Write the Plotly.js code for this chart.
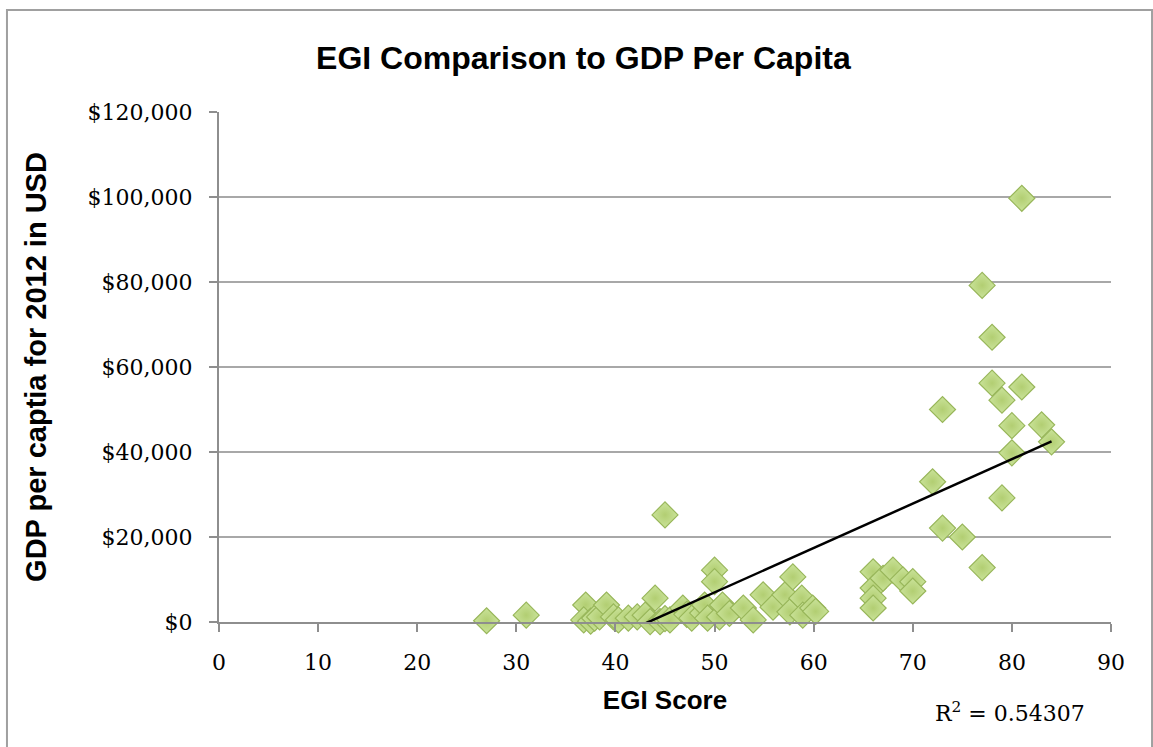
<!DOCTYPE html>
<html>
<head>
<meta charset="utf-8">
<script src="https://cdn.plot.ly/plotly-3.0.1.min.js"></script>
<style>html,body{margin:0;padding:0;background:#fff;}#chart{width:1153px;height:747px;}</style>
</head>
<body>
<div id="chart"></div>
<script>
// EGI score per country
var egiScore = [27, 31, 37, 36.8, 37.5, 37.9, 38.4, 39.1, 39.8, 40.3, 41.3, 42.2, 43, 43.5, 44, 44.5, 45, 45, 45.5,
  46.8, 47.2, 47.7, 48.8, 49, 49.3, 50, 50, 50.5, 50.8, 51.5, 52.9, 53.9, 54.9, 55.9, 57.1, 57.6, 57.9, 58.8, 58.9,
  59.9, 60.2, 66, 66, 66, 66, 67, 68, 69, 70, 70, 72, 73, 73, 75, 77, 77, 78, 78, 79, 79, 80, 80, 81, 81, 83, 84];
// GDP per capita 2012 (USD)
var gdpPerCapita = [300, 1600, 4000, 500, 200, 900, 1200, 4000, 1200, 500, 900, 1200, 1600, 100, 5600, 100, 25200, 800, 500,
  3300, 1800, 900, 2100, 4000, 900, 12200, 9500, 1200, 4000, 2000, 3300, 500, 6400, 3500, 6400, 2400, 10600, 5600, 1600,
  3300, 2500, 11800, 8000, 5600, 3300, 10300, 12200, 9900, 9500, 7300, 33000, 50000, 22100, 20000, 12800, 79200, 67000, 56200, 52200, 29200,
  46200, 39800, 55300, 99700, 46400, 42400];
var xTickVals = [0, 10, 20, 30, 40, 50, 60, 70, 80, 90];
var yTickVals = [0, 20000, 40000, 60000, 80000, 100000, 120000];
var rSquaredLabel = 'R<sup>2</sup> = 0.54307';

// linear least-squares trend line computed from the data
var n = egiScore.length, sx = 0, sy = 0, sxx = 0, sxy = 0;
for (var i = 0; i < n; i++) { sx += egiScore[i]; sy += gdpPerCapita[i]; sxx += egiScore[i]*egiScore[i]; sxy += egiScore[i]*gdpPerCapita[i]; }
var slope = (n*sxy - sx*sy) / (n*sxx - sx*sx);
var intercept = (sy - slope*sx) / n;
var xMin = Math.min.apply(null, egiScore), xMax = Math.max.apply(null, egiScore);
var trendX = [xMin, xMax];
var trendY = trendX.map(function(v){ return intercept + slope*v; });

var serif = 'DejaVu Serif, Liberation Serif, serif';
var sans = 'Liberation Sans, Arial, sans-serif';

var traces = [
  {
    x: egiScore, y: gdpPerCapita, type: 'scatter', mode: 'markers', cliponaxis: false,
    marker: { symbol: 'diamond', size: 20, color: '#cae39a',
      gradient: { type: 'radial', color: '#b2ce72' },
      line: { color: '#98b65a', width: 1.2 } },
    hoverinfo: 'x+y'
  },
  {
    x: trendX, y: trendY, type: 'scatter', mode: 'lines',
    line: { color: '#000', width: 2.5 }, hoverinfo: 'skip'
  }
];

var layout = {
  width: 1153, height: 747,
  margin: { l: 219, r: 42, t: 112, b: 125 },
  paper_bgcolor: '#fff', plot_bgcolor: '#fff',
  showlegend: false,
  title: { text: 'EGI Comparison to GDP Per Capita', font: { family: sans, size: 32, color: '#000', weight: 'bold' },
    xref: 'container', x: 0.506, yref: 'container', y: 0.923, xanchor: 'center', yanchor: 'middle' },
  xaxis: {
    range: [0, 90], tickvals: xTickVals, ticktext: xTickVals.map(String),
    showline: true, linecolor: '#8e8e8e', linewidth: 2,
    ticks: 'outside', ticklen: 8, tickwidth: 2, tickcolor: '#8e8e8e',
    showgrid: false, zeroline: false, ticklabelstandoff: 12,
    tickfont: { family: serif, size: 22, color: '#000' },
    title: { text: 'EGI Score', font: { family: sans, size: 26, color: '#000', weight: 'bold' }, standoff: 16 }
  },
  yaxis: {
    range: [0, 120000], tickvals: yTickVals,
    ticktext: yTickVals.map(function(v){ return '$' + v.toLocaleString('en-US'); }),
    showline: true, linecolor: '#8e8e8e', linewidth: 2,
    ticks: 'outside', ticklen: 8, tickwidth: 2, tickcolor: '#8e8e8e',
    showgrid: true, gridcolor: '#a8a8a8', gridwidth: 1.5, zeroline: false, ticklabelstandoff: 12,
    tickfont: { family: serif, size: 22, color: '#000' },
    title: { text: 'GDP per captia for 2012 in USD', font: { family: sans, size: 29, color: '#000', weight: 'bold' }, standoff: 32 }
  },
  annotations: [
    { text: rSquaredLabel, xref: 'paper', yref: 'paper', x: 0.887, y: -0.176, xanchor: 'center', yanchor: 'middle',
      showarrow: false, font: { family: serif, size: 22, color: '#000' } }
  ],
  shapes: [
    { type: 'rect', xref: 'paper', yref: 'paper', x0: -0.2377, x1: 1.046, y0: -0.3, y1: 1.2,
      line: { color: '#a0a0a0', width: 2 }, fillcolor: 'rgba(0,0,0,0)', layer: 'below' }
  ]
};

Plotly.newPlot('chart', traces, layout, { displayModeBar: false, staticPlot: true });
</script>
</body>
</html>
